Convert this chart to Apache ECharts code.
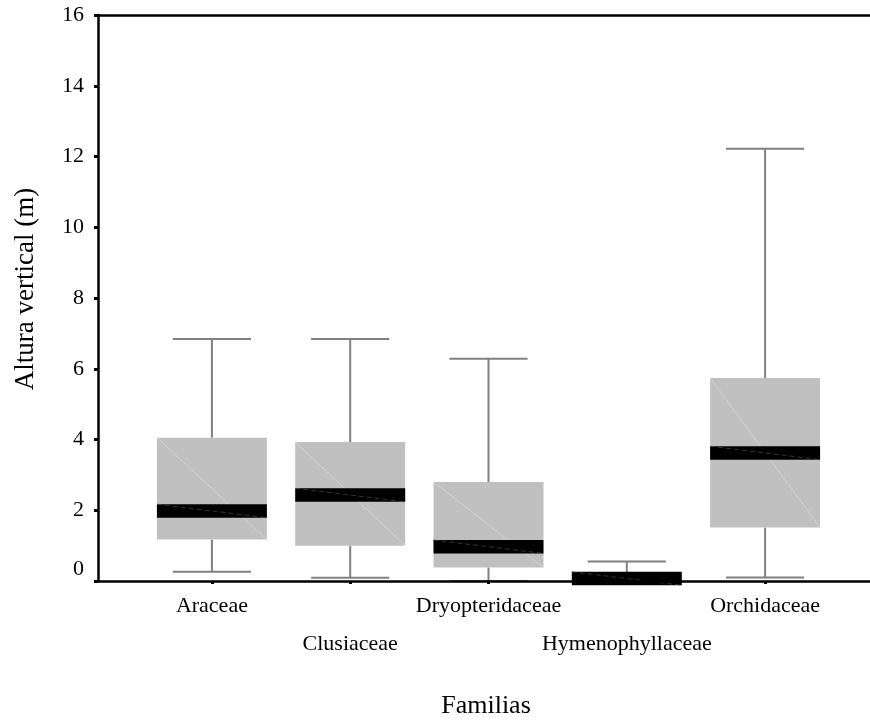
<!DOCTYPE html>
<html>
<head>
<meta charset="utf-8">
<script src="https://cdn.jsdelivr.net/npm/echarts@6/dist/echarts.min.js"></script>
<style>html,body{margin:0;padding:0;background:#fff;}#c{width:870px;height:723px;}</style>
</head>
<body>
<div id="c"></div>
<script>
const categories = ['Araceae', 'Clusiaceae', 'Dryopteridaceae', 'Hymenophyllaceae', 'Orchidaceae'];
const minValues    = [0.26, 0.09, 0.00, 0.00, 0.10];
const q1Values     = [1.17, 1.00, 0.38, 0.00, 1.51];
const medianValues = [1.98, 2.43, 0.97, 0.07, 3.62];
const q3Values     = [4.05, 3.93, 2.80, 0.20, 5.74];
const maxValues    = [6.84, 6.84, 6.28, 0.55, 12.22];
const yTicks = { min: 0, max: 16, interval: 2 };

const FONT = '"Liberation Serif", "Times New Roman", serif';
const data = categories.map((c, i) => [i, minValues[i], q1Values[i], medianValues[i], q3Values[i], maxValues[i]]);

function renderItem(params, api) {
  const xi = api.value(0);
  const pMin = api.coord([xi, api.value(1)]);
  const pQ1 = api.coord([xi, api.value(2)]);
  const pMd = api.coord([xi, api.value(3)]);
  const pQ3 = api.coord([xi, api.value(4)]);
  const pMax = api.coord([xi, api.value(5)]);
  const band = api.size([1, 0])[0];
  const bw = band * 0.795, cw = band * 0.565;
  const cx = pMd[0];
  const mh = 13.5;
  const gray = { stroke: '#808080', lineWidth: 2 };
  const children = [
    { type: 'line', shape: { x1: cx, y1: pQ3[1], x2: cx, y2: pMax[1] }, style: gray },
    { type: 'line', shape: { x1: cx - cw / 2, y1: pMax[1], x2: cx + cw / 2, y2: pMax[1] }, style: gray },
    { type: 'line', shape: { x1: cx, y1: pQ1[1], x2: cx, y2: pMin[1] }, style: gray },
    { type: 'line', shape: { x1: cx - cw / 2, y1: pMin[1], x2: cx + cw / 2, y2: pMin[1] }, style: gray },
    { type: 'rect', shape: { x: cx - bw / 2, y: pQ3[1], width: bw, height: pQ1[1] - pQ3[1] }, style: { fill: '#c0c0c0' } },
    { type: 'line', shape: { x1: cx - bw / 2, y1: pQ3[1], x2: cx + bw / 2, y2: pQ1[1] }, style: { stroke: '#d9d9d9', lineWidth: 0.7 } },
    { type: 'rect', shape: { x: cx - bw / 2, y: pMd[1] - mh / 2, width: bw, height: mh }, style: { fill: '#000' } },
    { type: 'line', shape: { x1: cx - bw / 2, y1: pMd[1] - mh / 2, x2: cx + bw / 2, y2: pMd[1] + mh / 2 }, style: { stroke: '#555', lineWidth: 0.6, lineDash: [5, 3] } }
  ];
  return { type: 'group', children };
}

const chart = echarts.init(document.getElementById('c'), null, { renderer: 'canvas' });
chart.setOption({
  animation: false,
  backgroundColor: '#fff',
  grid: [
    { left: 98, right: 0, top: 15, bottom: 142 },
    { left: 142.75, right: 35.75, top: 15, bottom: 142 }
  ],
  xAxis: [
    { gridIndex: 0, type: 'value', min: 0, max: 1, position: 'bottom', z: 5,
      axisLine: { show: true, lineStyle: { color: '#000', width: 2.5 } },
      axisTick: { show: false }, axisLabel: { show: false }, splitLine: { show: false } },
    { gridIndex: 0, type: 'value', min: 0, max: 1, position: 'top', z: 5,
      axisLine: { show: true, lineStyle: { color: '#000', width: 2.5 } },
      axisTick: { show: false }, axisLabel: { show: false }, splitLine: { show: false } },
    { gridIndex: 1, type: 'category', data: categories, position: 'bottom', z: 5,
      axisLine: { show: false },
      axisTick: { show: true, alignWithLabel: true, length: 3, lineStyle: { color: '#000', width: 3 } },
      axisLabel: { show: true, interval: 0, margin: 6, color: '#000', fontFamily: FONT, fontSize: 22, lineHeight: 38,
        formatter: (v, i) => (i % 2 ? '\n' + v : v) },
      splitLine: { show: false } }
  ],
  yAxis: [
    { gridIndex: 0, type: 'value', min: yTicks.min, max: yTicks.max, interval: yTicks.interval, z: 5,
      axisLine: { show: true, lineStyle: { color: '#000', width: 2.5 } },
      axisTick: { show: true, inside: false, length: 4, lineStyle: { color: '#000', width: 3 } },
      axisLabel: { show: true, margin: 14, color: '#000', fontFamily: FONT, fontSize: 22, lineHeight: 24,
        formatter: v => (v === 0 ? '0\n' : String(v)) },
      splitLine: { show: false } },
    { gridIndex: 1, type: 'value', min: yTicks.min, max: yTicks.max, show: false }
  ],
  graphic: [
    { type: 'text', x: 26, y: 289, rotation: Math.PI / 2,
      style: { text: 'Altura vertical (m)', font: '27px ' + FONT, fill: '#000', textAlign: 'center', textVerticalAlign: 'middle' } },
    { type: 'text', x: 486, y: 706,
      style: { text: 'Familias', font: '26px ' + FONT, fill: '#000', textAlign: 'center', textVerticalAlign: 'middle' } }
  ],
  series: [{
    type: 'custom',
    xAxisIndex: 2,
    yAxisIndex: 1,
    z: 1,
    renderItem: renderItem,
    encode: { x: 0, y: [1, 2, 3, 4, 5] },
    data: data
  }]
});
</script>
</body>
</html>
